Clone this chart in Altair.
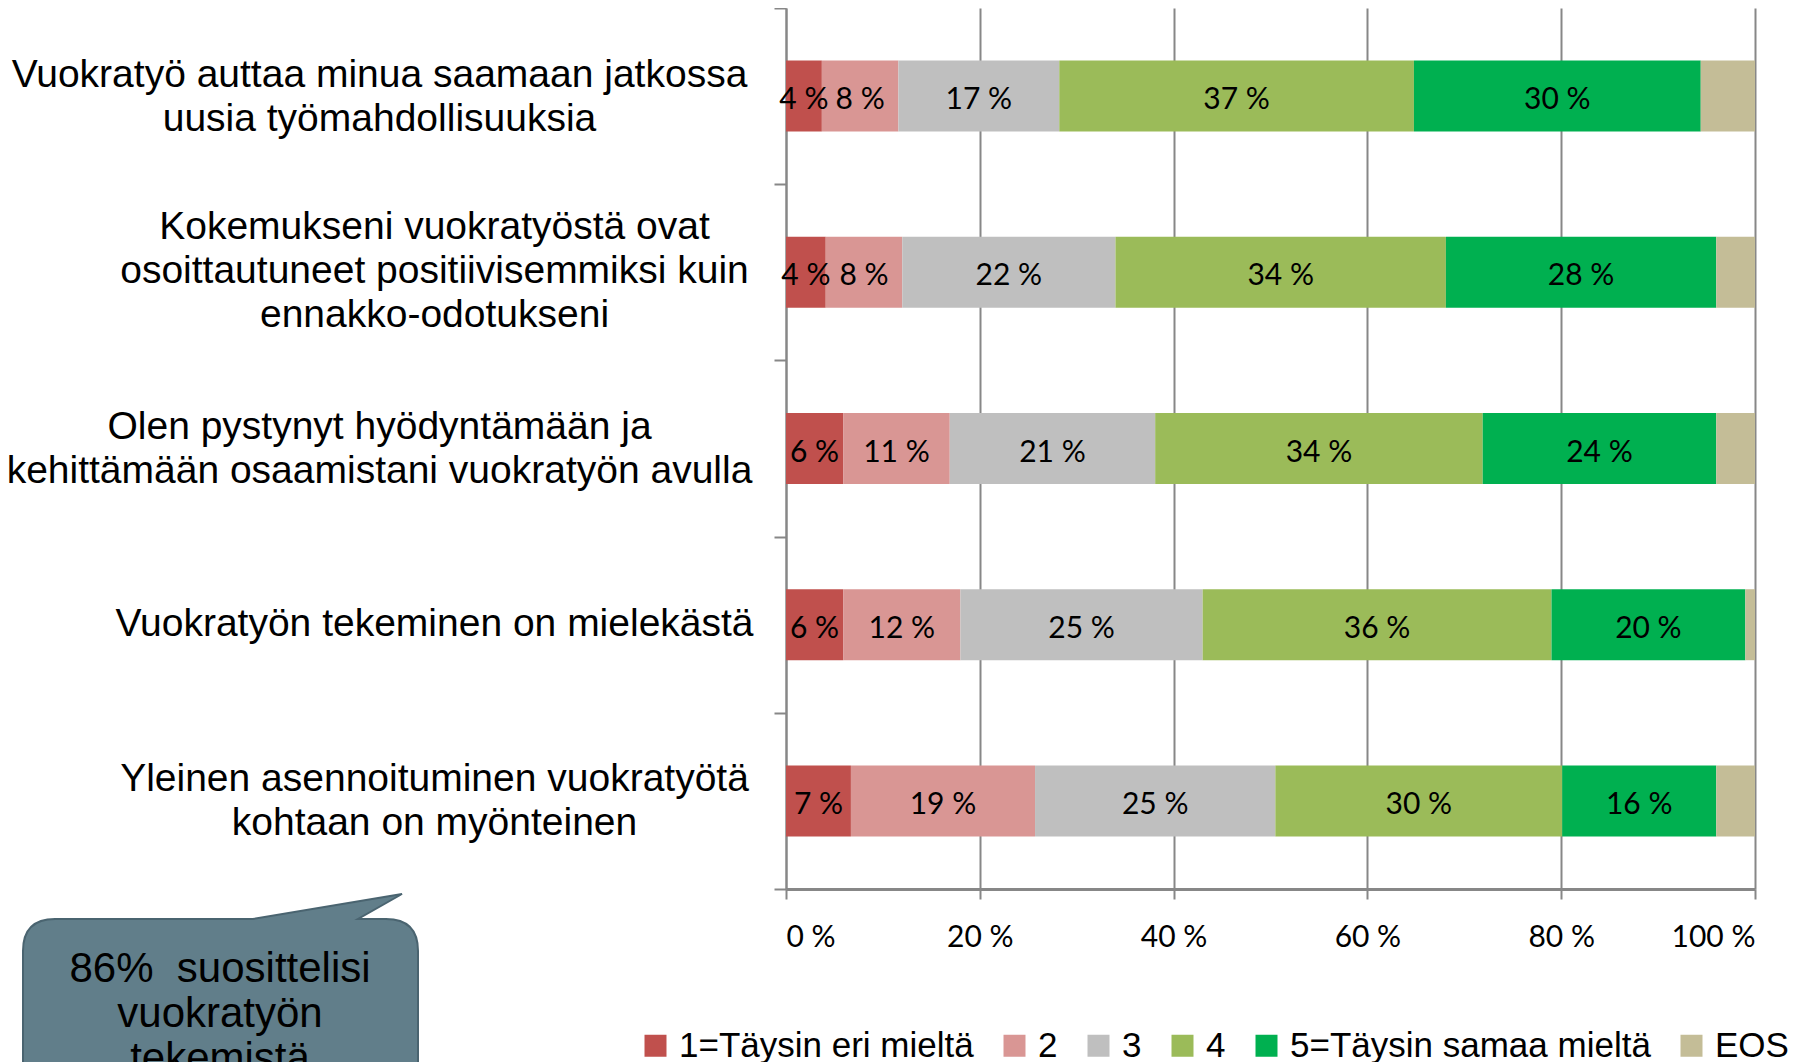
import altair as alt
import pandas as pd

# ---------------- data ----------------
questions = [
    "Vuokratyö auttaa minua saamaan jatkossa\nuusia työmahdollisuuksia",
    "Kokemukseni vuokratyöstä ovat\nosoittautuneet positiivisemmiksi kuin\nennakko-odotukseni",
    "Olen pystynyt hyödyntämään ja\nkehittämään osaamistani vuokratyön avulla",
    "Vuokratyön tekeminen on mielekästä",
    "Yleinen asennoituminen vuokratyötä\nkohtaan on myönteinen",
]
categories = ["1=Täysin eri mieltä", "2", "3", "4", "5=Täysin samaa mieltä", "EOS"]
colors = ["#C0504D", "#D99694", "#BFBFBF", "#9BBB59", "#00B050", "#C4BD97"]

s1 = [3.7, 4.1, 5.9, 5.9, 6.7]
s2 = [7.9, 7.9, 11.0, 12.1, 19.0]
s3 = [16.6, 22.0, 21.2, 25.0, 24.8]
s4 = [36.6, 34.1, 33.8, 36.0, 29.6]
s5 = [29.6, 27.9, 24.1, 20.0, 15.9]
eos = [5.6, 4.0, 4.0, 1.0, 4.0]

x_ticks = [0, 20, 40, 60, 80, 100]
callout_text = "86%\u00a0 suosittelisi\nvuokratyön\ntekemistä"

series = [s1, s2, s3, s4, s5, eos]
rows = []
for ci, (cat, vals) in enumerate(zip(categories, series)):
    for q, v in zip(questions, vals):
        rows.append({"question": q, "cat": cat, "order": ci, "value": v})
df = pd.DataFrame(rows)

GRAY = "#878787"
W, H = 969, 881

# labels of rows 1 and 3 sit further left (own centre), rows 2, 4, 5 on another centre
group_a = "indexof(datum.label, 'Vuokratyö auttaa') == 0 || indexof(datum.label, 'Olen pystynyt') == 0"

label_style = dict(
    title=None,
    labelFont="Liberation Sans",
    labelFontSize=39,
    labelColor="black",
    labelLineHeight=44,
    labelAlign="center",
    labelLimit=2000,
    labelOffset=-22,
)

# ---------------- axes ----------------
y_axis_main = alt.Axis(
    labelExpr=f"({group_a}) ? split(datum.label, '\\n') : ''",
    labelBaseline="middle",
    labelPadding=395,
    tickBand="extent",
    tickSize=12,
    tickWidth=2,
    tickColor=GRAY,
    domainColor=GRAY,
    domainWidth=2,
    grid=False,
    **label_style,
)

y_axis_second = alt.Axis(
    orient="right",
    offset=-1321,
    labelExpr=f"({group_a}) ? '' : split(datum.label, '\\n')",
    labelBaseline={
        "condition": [
            {"test": "indexof(datum.value, 'Kokemukseni') == 0", "value": "line-bottom"},
            {"test": "indexof(datum.value, 'Vuokratyön tekeminen') == 0", "value": "line-top"},
        ],
        "value": "middle",
    },
    labelPadding=0,
    ticks=False,
    domain=False,
    grid=False,
    **label_style,
)

x_axis = alt.Axis(
    title=None,
    values=x_ticks,
    labelExpr="datum.value + ' %'",
    labelFont="Lato",
    labelFontSize=30,
    labelColor="black",
    labelPadding=23,
    tickSize=10,
    tickWidth=2,
    tickColor=GRAY,
    domainColor=GRAY,
    domainWidth=3,
    grid=True,
    gridColor=GRAY,
    gridWidth=2,
)

y_scale = alt.Scale(domain=questions, paddingInner=0, paddingOuter=0)

bars = alt.Chart(df).mark_bar(size=71).encode(
    x=alt.X(
        "value:Q",
        stack="zero",
        scale=alt.Scale(domain=[0, 100], nice=False),
        axis=x_axis,
    ),
    y=alt.Y("question:N", sort=questions, scale=y_scale, axis=y_axis_main),
    order=alt.Order("order:Q", sort="ascending"),
    color=alt.Color(
        "cat:N",
        scale=alt.Scale(domain=categories, range=colors),
        legend=alt.Legend(
            title=None,
            orient="none",
            direction="horizontal",
            legendX=-148,
            legendY=1020,
            symbolType="square",
            symbolSize=484,
            symbolStrokeWidth=0,
            labelFont="Liberation Sans",
            labelFontSize=35,
            labelColor="black",
            labelOffset=6,
            labelLimit=600,
            columnPadding=23,
        ),
    ),
)

labels = alt.Chart(df).transform_window(
    cum="sum(value)",
    groupby=["question"],
    sort=[alt.SortField("order", order="ascending")],
    frame=[None, 0],
).transform_calculate(
    mid="datum.cum - datum.value / 2",
    lab="round(datum.value) + ' %'",
).transform_filter(
    "datum.cat != 'EOS'"
).mark_text(
    font="Lato", fontSize=30, color="black", align="center", baseline="middle", dy=4
).encode(
    x="mid:Q",
    y=alt.Y("question:N", sort=questions, scale=y_scale, axis=y_axis_second),
    text="lab:N",
)

# ---------------- callout bubble ----------------
bubble_path = (
    "M -165 -71 L 33 -71 L 182 -96 L 138 -71 L 166 -71 "
    "Q 198 -71 198 -39 L 198 140 L -197 140 L -197 -39 "
    "Q -197 -71 -165 -71 Z"
)
anno = pd.DataFrame({"k": [0]})
bubble = alt.Chart(anno).mark_point(
    shape=bubble_path,
    size=4,
    filled=True,
    fill="#617E8A",
    fillOpacity=1,
    stroke="#4A6470",
    strokeWidth=2,
    strokeOpacity=1,
    opacity=1,
).encode(x=alt.value(-566), y=alt.value(982))

bubble_text = alt.Chart(anno).mark_text(
    font="Liberation Sans",
    fontSize=42,
    color="black",
    align="center",
    baseline="alphabetic",
    lineHeight=45,
    lineBreak="\n",
).encode(x=alt.value(-566), y=alt.value(974), text=alt.value(callout_text))

chart = (
    alt.layer(bars, labels, bubble, bubble_text)
    .resolve_axis(y="independent")
    .properties(
        width=W,
        height=H,
        autosize=alt.AutoSizeParams(type="none"),
        padding={"left": 778, "top": 0, "right": 50, "bottom": 181},
    )
    .configure_view(stroke=None)
)

chart.save("out.html", embed_options={"renderer": "svg", "actions": False})
